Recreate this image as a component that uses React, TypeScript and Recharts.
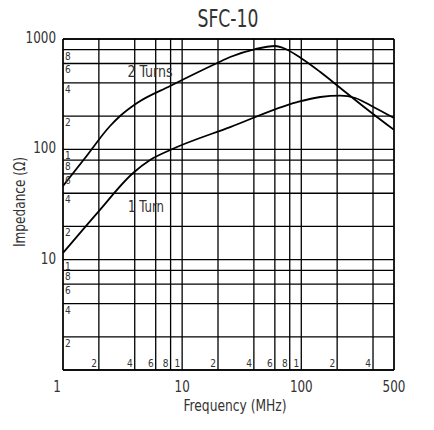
import React from 'react';
import { LineChart, Line, XAxis, YAxis, CartesianGrid, ReferenceDot, ReferenceLine, Label } from 'recharts';

const FONT = '"Liberation Sans Narrow", "DejaVu Sans Condensed", "Arial Narrow", sans-serif';
const TXT = '#333';

// 2 Turns curve (frequency MHz, impedance ohm)
const turns2Freq = [1, 1.531, 2.483, 3.013, 4.185, 7.93, 19.69, 25.3, 41.1, 60.5, 70.6, 102, 144.4, 212.7, 345, 600];
const turns2Imp = [46.5, 83.4, 162.7, 200.4, 263, 375, 606, 687, 811, 864, 829, 659, 502, 360, 237, 150];
// 1 Turn curve
const turn1Freq = [1, 1.968, 3.875, 5.38, 7.93, 25.3, 92.5, 144.4, 212.7, 284, 403, 600];
const turn1Imp = [11.5, 27.0, 61.0, 80, 98.6, 159, 268, 298, 307, 292, 242, 192];

// axis ticks and labels
const xTicks = [1, 2, 4, 6, 8, 10, 20, 40, 60, 80, 100, 200, 400, 600];
const xMajorTicks = [1, 10, 100, 600];
const xMajorLabels = ['1', '10', '100', '500'];
const xMinorTicks = [2, 4, 6, 8, 10, 20, 40, 60, 80, 100, 200, 400];
const xMinorLabels = ['2', '4', '6', '8', '1', '2', '4', '6', '8', '1', '2', '4'];

const yTicks = [1, 2, 4, 6, 8, 10, 20, 40, 60, 80, 100, 200, 400, 600, 800, 1000];
const yMajorTicks = [10, 100, 1000];
const yMajorLabels = ['10', '100', '1000'];
const yMinorTicks = [2, 4, 6, 8, 10, 20, 40, 60, 80, 100, 200, 400, 600, 800];
const yMinorLabels = ['2', '4', '6', '8', '1', '2', '4', '6', '8', '1', '2', '4', '6', '8'];

const turns2Data = turns2Freq.map((f, i) => ({ f, z: turns2Imp[i] }));
const turn1Data = turn1Freq.map((f, i) => ({ f, z: turn1Imp[i] }));

const DIGIT_W = 7.6;

const XTick = (props: any) => {
  const { x, y, payload } = props;
  const v = payload.value;
  const mi = xMajorTicks.indexOf(v);
  const ni = xMinorTicks.indexOf(v);
  return (
    <g>
      {mi >= 0 && (
        <text
          x={x + (v === 1 ? -6 : 0)}
          y={y + 22}
          textAnchor="middle"
          fontFamily={FONT}
          fontSize={15}
          fill={TXT}
          textLength={xMajorLabels[mi].length * DIGIT_W}
          lengthAdjust="spacingAndGlyphs"
        >
          {xMajorLabels[mi]}
        </text>
      )}
      {ni >= 0 && (
        <text x={x - 2} y={y - 3} textAnchor="end" fontFamily={FONT} fontSize={10} fill={TXT}>
          {xMinorLabels[ni]}
        </text>
      )}
    </g>
  );
};

const YTick = (props: any) => {
  const { x, y, payload } = props;
  const v = payload.value;
  const mi = yMajorTicks.indexOf(v);
  const ni = yMinorTicks.indexOf(v);
  return (
    <g>
      {mi >= 0 && (
        <text
          x={x - 7}
          y={y + 4}
          textAnchor="end"
          fontFamily={FONT}
          fontSize={15}
          fill={TXT}
          textLength={yMajorLabels[mi].length * DIGIT_W}
          lengthAdjust="spacingAndGlyphs"
        >
          {yMajorLabels[mi]}
        </text>
      )}
      {ni >= 0 && (
        <text x={x + 2} y={y + 10} textAnchor="start" fontFamily={FONT} fontSize={10} fill={TXT}>
          {yMinorLabels[ni]}
        </text>
      )}
    </g>
  );
};

const noteShape = (text: string, w: number) => (props: any) => (
  <text
    x={props.cx}
    y={props.cy}
    textAnchor="middle"
    dominantBaseline="middle"
    fontFamily={FONT}
    fontSize={16}
    fill={TXT}
    textLength={w}
    lengthAdjust="spacingAndGlyphs"
  >
    {text}
  </text>
);

export default function App() {
  return (
    <div style={{ position: 'absolute', left: 0, top: 0, width: 434, height: 430, background: '#fff' }}>
      <svg width={434} height={40} style={{ position: 'absolute', left: 0, top: 0 }}>
        <text x={228} y={27} textAnchor="middle" fontFamily={FONT} fontSize={25} fill={TXT} textLength={61} lengthAdjust="spacingAndGlyphs">
          SFC-10
        </text>
      </svg>
      <div style={{ position: 'absolute', left: 0, top: 0 }}>
        <LineChart width={434} height={430} margin={{ top: 39, right: 40, left: 0, bottom: 0 }}>
          <CartesianGrid stroke="#000" strokeWidth={1.3} />
          <XAxis
            dataKey="f"
            type="number"
            scale="log"
            domain={[1, 600]}
            ticks={xTicks}
            interval={0}
            allowDataOverflow
            height={60}
            tickLine={false}
            tickSize={0}
            tickMargin={0}
            axisLine={{ stroke: '#000', strokeWidth: 1.3 }}
            tick={<XTick />}
          >
            <Label
              content={() => (
                <text x={235} y={411} textAnchor="middle" fontFamily={FONT} fontSize={16} fill={TXT} textLength={103} lengthAdjust="spacingAndGlyphs">
                  Frequency (MHz)
                </text>
              )}
            />
          </XAxis>
          <YAxis
            dataKey="z"
            type="number"
            scale="log"
            domain={[1, 1000]}
            ticks={yTicks}
            interval={0}
            allowDataOverflow
            width={63}
            tickLine={false}
            tickSize={0}
            tickMargin={0}
            axisLine={{ stroke: '#000', strokeWidth: 1.3 }}
            tick={<YTick />}
          >
            <Label
              content={() => (
                <text
                  x={20}
                  y={202}
                  textAnchor="middle"
                  dominantBaseline="middle"
                  transform="rotate(-90 20 202)"
                  fontFamily={FONT}
                  fontSize={16}
                  fill={TXT}
                  textLength={90}
                  lengthAdjust="spacingAndGlyphs"
                >
                  Impedance (Ω)
                </text>
              )}
            />
          </YAxis>
          <ReferenceLine y={1000} stroke="#000" strokeWidth={1.3} />
          <ReferenceLine x={600} stroke="#000" strokeWidth={1.3} />
          <Line data={turns2Data} dataKey="z" type="monotone" stroke="#000" strokeWidth={1.8} dot={false} isAnimationActive={false} />
          <Line data={turn1Data} dataKey="z" type="monotone" stroke="#000" strokeWidth={1.8} dot={false} isAnimationActive={false} />
          <ReferenceDot x={5.38} y={502} r={0} shape={noteShape('2 Turns', 45)} />
          <ReferenceDot x={4.98} y={30} r={0} shape={noteShape('1 Turn', 36)} />
        </LineChart>
      </div>
    </div>
  );
}
